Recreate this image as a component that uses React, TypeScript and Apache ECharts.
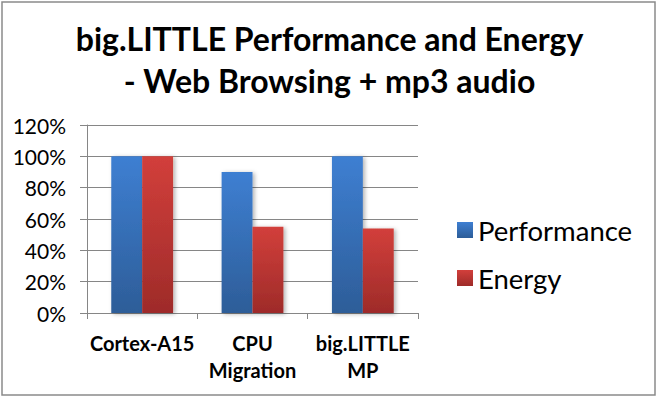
import React, { useEffect, useRef } from "react";
import * as echarts from "echarts";

const categories = ["Cortex-A15", "CPU\nMigration", "big.LITTLE\nMP"];
const performance = [100, 90, 100];
const energy = [100, 55, 54];
const yTicks = [0, 20, 40, 60, 80, 100, 120];
const titleText = "big.LITTLE Performance and Energy\n- Web Browsing + mp3 audio";
const FONT = "Lato";

export default function App() {
  const ref = useRef<HTMLDivElement>(null);
  useEffect(() => {
    if (!ref.current) return;
    const chart = echarts.init(ref.current, null, { renderer: "svg" });
    const grad = (top: string, bottom: string) => ({
      type: "linear",
      x: 0,
      y: 0,
      x2: 0,
      y2: 1,
      colorStops: [
        { offset: 0, color: top },
        { offset: 1, color: bottom },
      ],
    });
    chart.setOption({
      animation: false,
      backgroundColor: "#ffffff",
      textStyle: { fontFamily: FONT },
      title: {
        text: titleText,
        left: "center",
        top: 17,
        padding: 0,
        textStyle: {
          fontFamily: FONT,
          fontSize: 32,
          fontWeight: "bold",
          color: "#000",
          lineHeight: 42,
        },
      },
      graphic: [
        {
          type: "rect",
          shape: { x: 2, y: 2, width: 653, height: 393 },
          style: { fill: "none", stroke: "#8a8a8a", lineWidth: 1.5 },
          silent: true,
        },
      ],
      legend: {
        orient: "vertical",
        left: 452,
        top: 209,
        itemWidth: 16,
        itemHeight: 16,
        itemGap: 16,
        icon: "rect",
        textStyle: { fontFamily: FONT, fontSize: 27.5, color: "#000", lineHeight: 32 },
        data: ["Performance", "Energy"],
      },
      grid: { left: 87, right: 241, top: 125, bottom: 86, containLabel: false },
      xAxis: {
        type: "category",
        data: categories,
        axisLine: { lineStyle: { color: "#868686", width: 1 } },
        axisTick: { show: true, length: 6, lineStyle: { color: "#868686" } },
        axisLabel: {
          fontFamily: FONT,
          fontSize: 20,
          fontWeight: "bold",
          color: "#000",
          lineHeight: 27,
          margin: 16,
          interval: 0,
        },
      },
      yAxis: {
        type: "value",
        min: 0,
        max: 120,
        interval: 20,
        axisLine: { show: true, lineStyle: { color: "#868686", width: 1 } },
        axisTick: { show: true, length: 7, lineStyle: { color: "#868686" } },
        splitLine: { lineStyle: { color: "#868686", width: 1 } },
        axisLabel: {
          fontFamily: FONT,
          fontSize: 21,
          color: "#000",
          margin: 21,
          formatter: (v: number) => (yTicks.includes(v) ? v + "%" : ""),
        },
      },
      series: [
        {
          name: "Performance",
          type: "bar",
          data: performance,
          barGap: "0%",
          barCategoryGap: "44%",
          itemStyle: {
            color: grad("#3e7fd2", "#2d5d98"),
            shadowBlur: 4,
            shadowOffsetX: 2,
            shadowOffsetY: 1,
            shadowColor: "rgba(0,0,0,0.3)",
          },
        },
        {
          name: "Energy",
          type: "bar",
          data: energy,
          itemStyle: {
            color: grad("#d23f3b", "#9e2b29"),
            shadowBlur: 4,
            shadowOffsetX: 2,
            shadowOffsetY: 1,
            shadowColor: "rgba(0,0,0,0.3)",
          },
        },
      ],
    });
    return () => chart.dispose();
  }, []);
  return (
    <div
      ref={ref}
      style={{ position: "fixed", left: 0, top: 0, width: 659, height: 399 }}
    />
  );
}
